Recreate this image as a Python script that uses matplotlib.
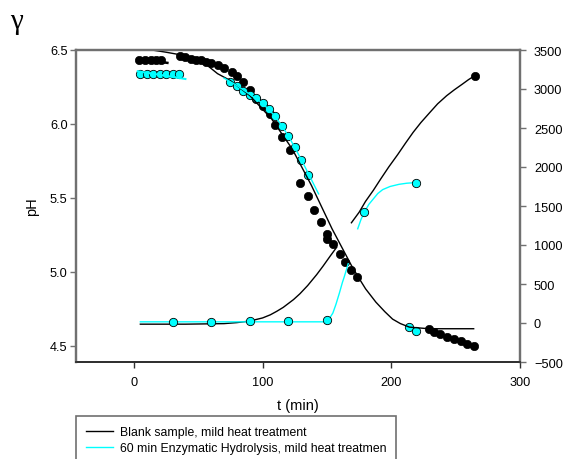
import matplotlib
matplotlib.use('Agg')
import matplotlib.pyplot as plt
from matplotlib.lines import Line2D

plt.rcParams['font.family'] = ['Liberation Sans', 'DejaVu Sans']

# pH data, blank sample (black dots)
blank_t = [4, 9, 13, 17, 21,
           36, 40, 44, 48, 52, 56, 60, 65, 70, 76, 80, 85, 90, 95, 100,
           106, 110, 115, 121, 129, 135, 140, 145, 150, 150, 155, 160, 164, 169, 173,
           229, 233, 238, 243, 249, 254, 259, 264]
blank_ph = [6.435, 6.435, 6.435, 6.435, 6.43,
            6.457, 6.45, 6.44, 6.43, 6.43, 6.42, 6.41, 6.40, 6.376, 6.349, 6.322, 6.282, 6.232, 6.17, 6.12,
            6.07, 5.993, 5.914, 5.826, 5.601, 5.516, 5.419, 5.336, 5.257, 5.223, 5.189, 5.122, 5.065, 5.009, 4.964,
            4.615, 4.592, 4.576, 4.559, 4.543, 4.53, 4.514, 4.498]

# pH data, 60 min hydrolysis (cyan dots)
hydro_t = [5, 10, 15, 20, 25, 30, 35,
           75, 80, 85, 90, 95, 100, 105, 110, 115, 120, 125, 130, 135,
           214, 219]
hydro_ph = [6.335, 6.335, 6.335, 6.335, 6.335, 6.335, 6.335,
            6.282, 6.259, 6.225, 6.196, 6.173, 6.14, 6.101, 6.052, 5.989, 5.917, 5.842, 5.759, 5.657,
            4.626, 4.603]

# pH fit lines
blank_fit_a_t = [3, 26]
blank_fit_a_ph = [6.44, 6.413]
blank_fit_t = [5, 14, 25, 41, 55, 65, 75, 90, 107, 123, 138, 154, 169, 175, 180, 188, 195, 201,
               207, 214, 229, 264]
blank_fit_ph = [6.515, 6.50, 6.485, 6.46, 6.41, 6.34, 6.293, 6.192, 6.034, 5.831, 5.583, 5.29,
                5.043, 4.955, 4.885, 4.795, 4.73, 4.68, 4.65, 4.626, 4.615, 4.615]
hydro_fit_a_t = [3, 40]
hydro_fit_a_ph = [6.356, 6.304]
hydro_fit_t = [70, 80, 90, 100, 110, 120, 130, 143.5]
hydro_fit_ph = [6.31, 6.26, 6.20, 6.14, 6.05, 5.92, 5.76, 5.527]

# G' data (right axis)
blank_g_t = [264.7]
blank_g = [3170]
hydro_g_t = [30, 60, 90, 120, 150, 179, 219]
hydro_g = [15, 15, 20, 30, 35, 1425, 1795]

blank_gfit_a_t = [5, 40, 70, 80, 90, 100, 106, 111, 116, 120, 124, 129, 135, 142, 147, 152.6, 157.5]
blank_gfit_a = [-15, -15, -8, 5, 25, 65, 105, 150, 200, 250, 300, 375, 480, 620, 730, 860, 970]
blank_gfit_b_t = [169, 175, 180, 186, 191.5, 198, 205, 211, 217, 223, 230, 236, 243, 249, 255, 260, 264.7]
blank_gfit_b = [1285, 1420, 1560, 1700, 1840, 2000, 2160, 2305, 2445, 2570, 2700, 2810, 2914, 2990,
                3060, 3120, 3170]
hydro_gfit_a_t = [5, 149, 152, 154.6, 157, 159.7, 162, 163.6, 166.5]
hydro_gfit_a = [15, 15, 60, 128, 240, 386, 520, 600, 760]
hydro_gfit_b_t = [173.9, 176.5, 179.3, 182.5, 186, 189.5, 193.3, 199, 206, 212, 218.5]
hydro_gfit_b = [1208, 1330, 1427, 1520, 1590, 1660, 1710, 1750, 1778, 1792, 1800]

cyan = '#00FFFF'
spine_grey = '#707070'

fig = plt.figure(figsize=(5.65, 4.6), dpi=100)
ax = fig.add_axes([76/565, 1-363/460, (520-76)/565, (363-51)/460])
ax2 = ax.twinx()

# left axis: pH
ax.plot(blank_t, blank_ph, 'o', ms=6, mfc='black', mec='black', mew=0.5, zorder=2)
ax.plot(hydro_t, hydro_ph, 'o', ms=6, mfc=cyan, mec='black', mew=0.6, zorder=3)
ax.plot(blank_fit_a_t, blank_fit_a_ph, color='black', lw=1.8, zorder=4)
ax.plot(blank_fit_t, blank_fit_ph, color='black', lw=1, zorder=4)
ax.plot(hydro_fit_a_t, hydro_fit_a_ph, color=cyan, lw=1.5, zorder=4)
ax.plot(hydro_fit_t, hydro_fit_ph, color=cyan, lw=1, zorder=4)

# right axis: G'
ax2.plot(blank_gfit_a_t, blank_gfit_a, color='black', lw=1)
ax2.plot(blank_gfit_b_t, blank_gfit_b, color='black', lw=1)
ax2.plot(hydro_gfit_a_t, hydro_gfit_a, color=cyan, lw=1)
ax2.plot(hydro_gfit_b_t, hydro_gfit_b, color=cyan, lw=1)
ax2.plot(blank_g_t, blank_g, 'o', ms=6, mfc='black', mec='black', mew=0.5)
ax2.plot(hydro_g_t, hydro_g, 'o', ms=6, mfc=cyan, mec='black', mew=0.6)

ax.set_xlim(-45, 300)
ax.set_ylim(4.39, 6.5)
ax2.set_ylim(-500, 3500)
ax.set_xticks([0, 100, 200, 300])
ax.set_yticks([4.5, 5.0, 5.5, 6.0, 6.5])
ax2.set_yticks(range(-500, 3501, 500))

ax.set_xlabel('t (min)', fontsize=10.5, labelpad=7)
ax.set_ylabel('pH', fontsize=10.5, labelpad=8)

for a in (ax, ax2):
    for s in ('left', 'right', 'top'):
        a.spines[s].set_color(spine_grey)
        a.spines[s].set_linewidth(1.6)
    a.spines['bottom'].set_color('#303030')
    a.spines['bottom'].set_linewidth(1.3)
ax.tick_params(axis='y', direction='out', length=4, width=1, color=spine_grey,
               labelsize=9.2, pad=2)
ax.tick_params(axis='x', direction='out', length=4, width=1, color='#303030',
               labelsize=9.2, pad=6)
ax2.tick_params(axis='y', direction='out', length=4, width=1, color=spine_grey,
                labelsize=9.2, pad=6)

fig.text(10/565, 1-29/460, 'γ', family=['Liberation Serif', 'DejaVu Serif'],
         fontsize=21, va='baseline', ha='left')

handles = [Line2D([], [], color='black', lw=1),
           Line2D([], [], color=cyan, lw=1),
           Line2D([], [], color='none')]
labels = ['Blank sample, mild heat treatment',
          '60 min Enzymatic Hydrolysis, mild heat treatmen',
          ' ']
leg = fig.legend(handles, labels, loc='upper left',
                 bbox_to_anchor=(76/565, 1-417/460), fontsize=8.8,
                 frameon=True, fancybox=False, framealpha=1,
                 edgecolor=spine_grey, borderaxespad=0, borderpad=0.8,
                 handlelength=2.2, handletextpad=0.6, labelspacing=0.35)
leg.get_frame().set_linewidth(1.2)

fig.savefig('out.png', dpi=100)
